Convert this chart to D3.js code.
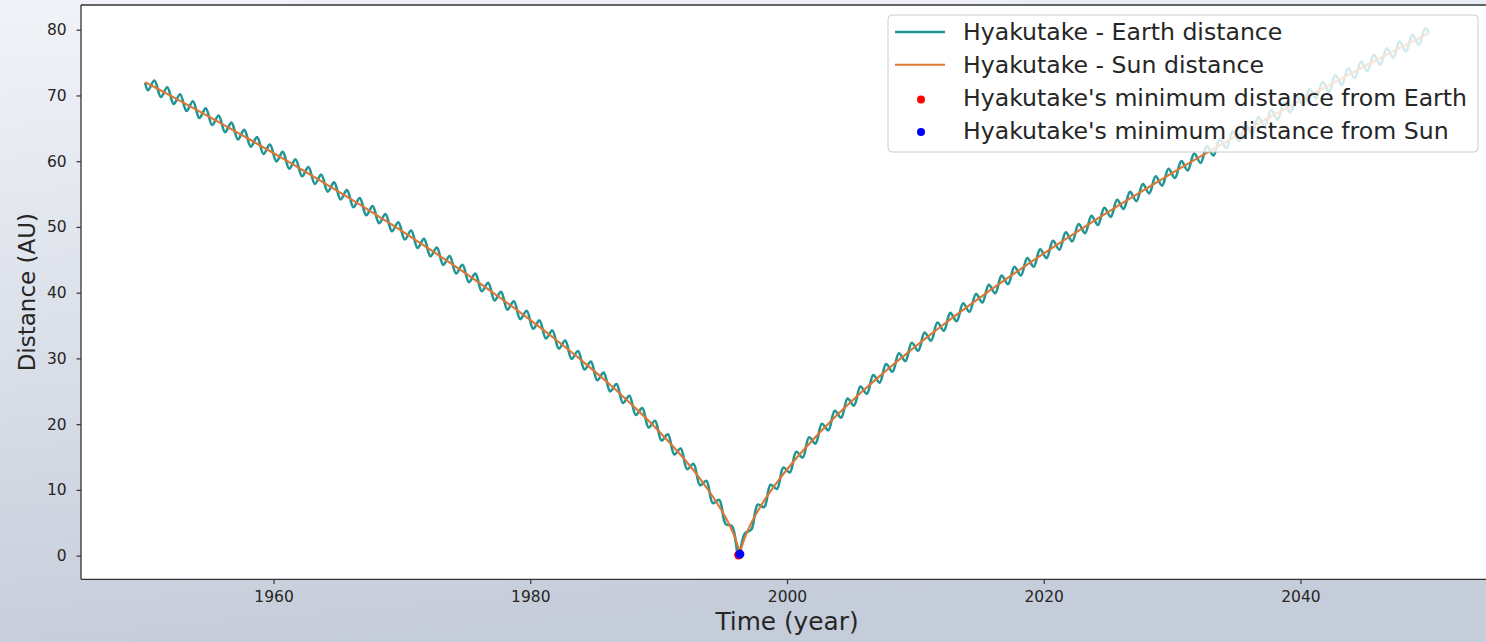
<!DOCTYPE html>
<html>
<head>
<meta charset="utf-8">
<script src="https://cdn.jsdelivr.net/npm/d3@7"></script>
<style>
  html, body { margin: 0; padding: 0; }
  svg { display: block; }
  text { font-family: "DejaVu Sans", sans-serif; fill: #262626; }
</style>
</head>
<body>
<svg id="chart" width="1486" height="642"></svg>
<script>
// ---------------- data ----------------
const sunYears = [1950, 1950.22, 1951.22, 1952.22, 1953.22, 1954.22, 1955.22, 1956.22, 1957.22, 1958.22, 1959.22,
  1960.22, 1961.22, 1962.22, 1963.22, 1964.22, 1965.22, 1966.22, 1967.22, 1968.22, 1969.22,
  1970.22, 1971.22, 1972.22, 1973.22, 1974.22, 1975.22, 1976.22, 1977.22, 1978.22, 1979.22,
  1980.22, 1981.22, 1982.22, 1983.22, 1984.22, 1985.22, 1986.22, 1987.22, 1988.22, 1989.22,
  1990.22, 1991.22, 1992.22, 1993.22, 1994.22, 1995.22, 1995.72, 1996.0, 1996.22, 1996.27,
  1996.33, 1996.39, 1996.44, 1996.72, 1997.22, 1998.22, 1999.22,
  2000.22, 2001.22, 2002.22, 2003.22, 2004.22, 2005.22, 2006.22, 2007.22, 2008.22, 2009.22,
  2010.22, 2011.22, 2012.22, 2013.22, 2014.22, 2015.22, 2016.22, 2017.22, 2018.22, 2019.22,
  2020.22, 2021.22, 2022.22, 2023.22, 2024.22, 2025.22, 2026.22, 2027.22, 2028.22, 2029.22,
  2030.22, 2031.22, 2032.22, 2033.22, 2034.22, 2035.22, 2036.22, 2037.22, 2038.22, 2039.22,
  2040.22, 2041.22, 2042.22, 2043.22, 2044.22, 2045.22, 2046.22, 2047.22, 2048.22, 2049.22, 2050];
const sunDist = [72.03, 71.80, 70.76, 69.71, 68.65, 67.58, 66.50, 65.42, 64.32, 63.22, 62.10,
  60.98, 59.85, 58.70, 57.54, 56.37, 55.19, 54.00, 52.79, 51.57, 50.34,
  49.09, 47.82, 46.53, 45.23, 43.92, 42.58, 41.21, 39.82, 38.42, 36.98,
  35.52, 34.03, 32.50, 30.93, 29.33, 27.68, 25.99, 24.22, 22.40, 20.50,
  18.51, 16.40, 14.16, 11.72, 8.99, 5.80, 3.82, 2.48, 1.10, 0.70,
  0.23, 0.70, 1.10, 2.79, 4.98, 8.38, 11.15,
  13.64, 15.92, 18.06, 20.07, 21.99, 23.83, 25.61, 27.31, 28.97, 30.58,
  32.16, 33.69, 35.20, 36.66, 38.10, 39.51, 40.91, 42.28, 43.62, 44.94,
  46.25, 47.54, 48.81, 50.06, 51.30, 52.53, 53.74, 54.93, 56.11, 57.28,
  58.44, 59.59, 60.73, 61.86, 62.98, 64.08, 65.18, 66.26, 67.34, 68.41,
  69.46, 70.53, 71.58, 72.61, 73.64, 74.67, 75.69, 76.70, 77.71, 78.71, 79.48];

const earthYears = [1950,
  1950.22, 1950.72, 1951.22, 1951.72, 1952.22, 1952.72, 1953.22, 1953.72, 1954.22, 1954.72,
  1955.22, 1955.72, 1956.22, 1956.72, 1957.22, 1957.72, 1958.22, 1958.72, 1959.22, 1959.72,
  1960.22, 1960.72, 1961.22, 1961.72, 1962.22, 1962.72, 1963.22, 1963.72, 1964.22, 1964.72,
  1965.22, 1965.72, 1966.22, 1966.72, 1967.22, 1967.72, 1968.22, 1968.72, 1969.22, 1969.72,
  1970.22, 1970.72, 1971.22, 1971.72, 1972.22, 1972.72, 1973.22, 1973.72, 1974.22, 1974.72,
  1975.22, 1975.72, 1976.22, 1976.72, 1977.22, 1977.72, 1978.22, 1978.72, 1979.22, 1979.72,
  1980.22, 1980.72, 1981.22, 1981.72, 1982.22, 1982.72, 1983.22, 1983.72, 1984.22, 1984.72,
  1985.22, 1985.72, 1986.22, 1986.72, 1987.22, 1987.72, 1988.22, 1988.72, 1989.22, 1989.72,
  1990.22, 1990.72, 1991.22, 1991.72, 1992.22, 1992.72, 1993.22, 1993.72, 1994.22, 1994.72,
  1995.22, 1995.72, 1996.22, 1996.72, 1997.22, 1997.72, 1998.22, 1998.72, 1999.22, 1999.72,
  2000.22, 2000.72, 2001.22, 2001.72, 2002.22, 2002.72, 2003.22, 2003.72, 2004.22, 2004.72,
  2005.22, 2005.72, 2006.22, 2006.72, 2007.22, 2007.72, 2008.22, 2008.72, 2009.22, 2009.72,
  2010.22, 2010.72, 2011.22, 2011.72, 2012.22, 2012.72, 2013.22, 2013.72, 2014.22, 2014.72,
  2015.22, 2015.72, 2016.22, 2016.72, 2017.22, 2017.72, 2018.22, 2018.72, 2019.22, 2019.72,
  2020.22, 2020.72, 2021.22, 2021.72, 2022.22, 2022.72, 2023.22, 2023.72, 2024.22, 2024.72,
  2025.22, 2025.72, 2026.22, 2026.72, 2027.22, 2027.72, 2028.22, 2028.72, 2029.22, 2029.72,
  2030.22, 2030.72, 2031.22, 2031.72, 2032.22, 2032.72, 2033.22, 2033.72, 2034.22, 2034.72,
  2035.22, 2035.72, 2036.22, 2036.72, 2037.22, 2037.72, 2038.22, 2038.72, 2039.22, 2039.72,
  2040.22, 2040.72, 2041.22, 2041.72, 2042.22, 2042.72, 2043.22, 2043.72, 2044.22, 2044.72,
  2045.22, 2045.72, 2046.22, 2046.72, 2047.22, 2047.72, 2048.22, 2048.72, 2049.22, 2049.72,
  2050];
const earthDist = [71.95,
  70.80, 72.28, 69.76, 71.24, 68.71, 70.18, 67.65, 69.11, 66.58, 68.04,
  65.50, 66.96, 64.42, 65.87, 63.32, 64.77, 62.22, 63.66, 61.10, 62.54,
  59.98, 61.42, 58.85, 60.27, 57.70, 59.12, 56.54, 57.95, 55.37, 56.78,
  54.19, 55.60, 53.00, 54.40, 51.79, 53.18, 50.57, 51.96, 49.34, 50.71,
  48.09, 49.45, 46.82, 48.18, 45.53, 46.88, 44.23, 45.58, 42.92, 44.25,
  41.58, 42.90, 40.21, 41.52, 38.82, 40.12, 37.42, 38.70, 35.98, 37.25,
  34.52, 35.78, 33.03, 34.26, 31.50, 32.72, 29.93, 31.13, 28.33, 29.51,
  26.68, 27.84, 24.99, 26.11, 23.22, 24.32, 21.40, 22.46, 19.50, 20.51,
  17.51, 18.46, 15.40, 16.29, 13.16, 13.95, 10.72, 11.37, 7.99, 8.49,
  4.80, 4.50, 0.10, 3.40, 3.98, 7.76, 7.38, 10.77, 10.15, 13.41,
  12.64, 15.79, 14.92, 18.00, 17.06, 20.07, 19.07, 22.03, 20.99, 23.91,
  22.83, 25.72, 24.61, 27.46, 26.31, 29.14, 27.97, 30.78, 29.58, 32.37,
  31.16, 33.93, 32.69, 35.45, 34.20, 36.93, 35.66, 38.38, 37.10, 39.81,
  38.51, 41.21, 39.91, 42.59, 41.28, 43.95, 42.62, 45.28, 43.94, 46.60,
  45.25, 47.89, 46.54, 49.18, 47.81, 50.44, 49.06, 51.68, 50.30, 52.92,
  51.53, 54.13, 52.74, 55.33, 53.93, 56.52, 55.11, 57.70, 56.28, 58.86,
  57.44, 60.02, 58.59, 61.16, 59.73, 62.30, 60.86, 63.42, 61.98, 64.53,
  63.08, 65.63, 64.18, 66.72, 65.26, 67.80, 66.34, 68.88, 67.41, 69.94,
  68.46, 71.00, 69.53, 72.06, 70.58, 73.10, 71.61, 74.13, 72.64, 75.16,
  73.67, 76.19, 74.69, 77.19, 75.70, 78.20, 76.71, 79.21, 77.71, 80.21,
  79.60];

const earthMin = { year: 1996.23, dist: 0.10 };
const sunMin = { year: 1996.33, dist: 0.23 };

const xTicks = [1960, 1980, 2000, 2020, 2040];
const yTicks = [0, 10, 20, 30, 40, 50, 60, 70, 80];
const legendLabels = ["Hyakutake - Earth distance", "Hyakutake - Sun distance",
  "Hyakutake's minimum distance from Earth", "Hyakutake's minimum distance from Sun"];
const xLabel = "Time (year)";
const yLabel = "Distance (AU)";

(function () {
  // ---------------- layout ----------------
  const W = 1486, H = 642;
  const pL = 81, pT = 5, pR = 1493, pB = 579.3;
  const cEarth = "#1f9594", cSun = "#de7634";

  const svg = d3.select("#chart");
  const defs = svg.append("defs");
  const grad = defs.append("linearGradient").attr("id", "bg")
    .attr("x1", 0).attr("y1", 0).attr("x2", 0.2).attr("y2", 1);
  grad.append("stop").attr("offset", "0%").attr("stop-color", "#f1f3f8");
  grad.append("stop").attr("offset", "100%").attr("stop-color", "#c6cdda");
  svg.append("rect").attr("width", W).attr("height", H).attr("fill", "url(#bg)");

  const x = d3.scaleLinear().domain([1945, 2055]).range([pL, pR]);
  const y = d3.scaleLinear().domain([-3.6, 83.76]).range([pB, pT]);

  svg.append("rect").attr("x", pL).attr("y", pT)
    .attr("width", pR - pL).attr("height", pB - pT).attr("fill", "#ffffff");

  const earthPts = earthYears.map((t, i) => [t, earthDist[i]]);
  const sunPts = sunYears.map((t, i) => [t, sunDist[i]]);
  const line = d3.line().x(d => x(d[0])).y(d => y(d[1])).curve(d3.curveCatmullRom.alpha(0.5));

  svg.append("path").attr("d", line(earthPts)).attr("fill", "none")
    .attr("stroke", cEarth).attr("stroke-width", 2.6).attr("stroke-linejoin", "round");
  svg.append("path").attr("d", line(sunPts)).attr("fill", "none")
    .attr("stroke", cSun).attr("stroke-width", 2.1).attr("stroke-linejoin", "round");

  svg.append("circle").attr("cx", x(earthMin.year)).attr("cy", y(earthMin.dist)).attr("r", 4.5).attr("fill", "#ff0000");
  svg.append("circle").attr("cx", x(sunMin.year)).attr("cy", y(sunMin.dist)).attr("r", 4.5).attr("fill", "#0000ff");

  const xAxis = d3.axisBottom(x).tickValues(xTicks).tickFormat(d3.format("d")).tickSize(4.8).tickPadding(6.5);
  const gx = svg.append("g").attr("transform", `translate(0,${pB})`).call(xAxis);
  gx.select(".domain").remove();
  gx.selectAll("line").attr("stroke", "#333").attr("stroke-width", 1.2);
  gx.selectAll("text").style("font-size", "15.5px").style("font-family", "DejaVu Sans").attr("fill", "#262626");

  const yAxis = d3.axisLeft(y).tickValues(yTicks).tickSize(4.5).tickPadding(9.8);
  const gy = svg.append("g").attr("transform", `translate(${pL},0)`).call(yAxis);
  gy.select(".domain").remove();
  gy.selectAll("line").attr("stroke", "#333").attr("stroke-width", 1.2);
  gy.selectAll("text").style("font-size", "15.5px").style("font-family", "DejaVu Sans").attr("fill", "#262626");

  const sp = svg.append("g").attr("stroke", "#333").attr("stroke-width", 1.3).attr("fill", "none");
  sp.append("line").attr("x1", pL).attr("x2", pL).attr("y1", pT).attr("y2", pB);
  sp.append("line").attr("x1", pL).attr("x2", pR).attr("y1", pT).attr("y2", pT);
  sp.append("line").attr("x1", pL).attr("x2", pR).attr("y1", pB).attr("y2", pB);

  svg.append("text").attr("x", (pL + pR) / 2).attr("y", 630).attr("text-anchor", "middle")
    .style("font-size", "24.8px").text(xLabel);
  svg.append("text").attr("transform", `translate(35,${(pT + pB) / 2}) rotate(-90)`)
    .attr("text-anchor", "middle").style("font-size", "23px").text(yLabel);

  const lg = svg.append("g");
  lg.append("rect").attr("x", 888).attr("y", 15).attr("width", 590).attr("height", 137).attr("rx", 4)
    .attr("fill", "#ffffff").attr("fill-opacity", 0.8).attr("stroke", "#cccccc").attr("stroke-width", 1);
  const rowY = [32, 64.7, 97.4, 130.1];
  lg.append("line").attr("x1", 895).attr("x2", 945).attr("y1", rowY[0]).attr("y2", rowY[0])
    .attr("stroke", cEarth).attr("stroke-width", 2.6);
  lg.append("line").attr("x1", 895).attr("x2", 945).attr("y1", rowY[1]).attr("y2", rowY[1])
    .attr("stroke", cSun).attr("stroke-width", 2.1);
  lg.append("circle").attr("cx", 921).attr("cy", rowY[2] + 2).attr("r", 4).attr("fill", "#ff0000");
  lg.append("circle").attr("cx", 921).attr("cy", rowY[3] + 2).attr("r", 4).attr("fill", "#0000ff");
  legendLabels.forEach((t, i) => {
    lg.append("text").attr("x", 963).attr("y", rowY[i]).attr("dy", "0.36em")
      .style("font-size", "23.6px").text(t);
  });
})();
</script>
</body>
</html>
